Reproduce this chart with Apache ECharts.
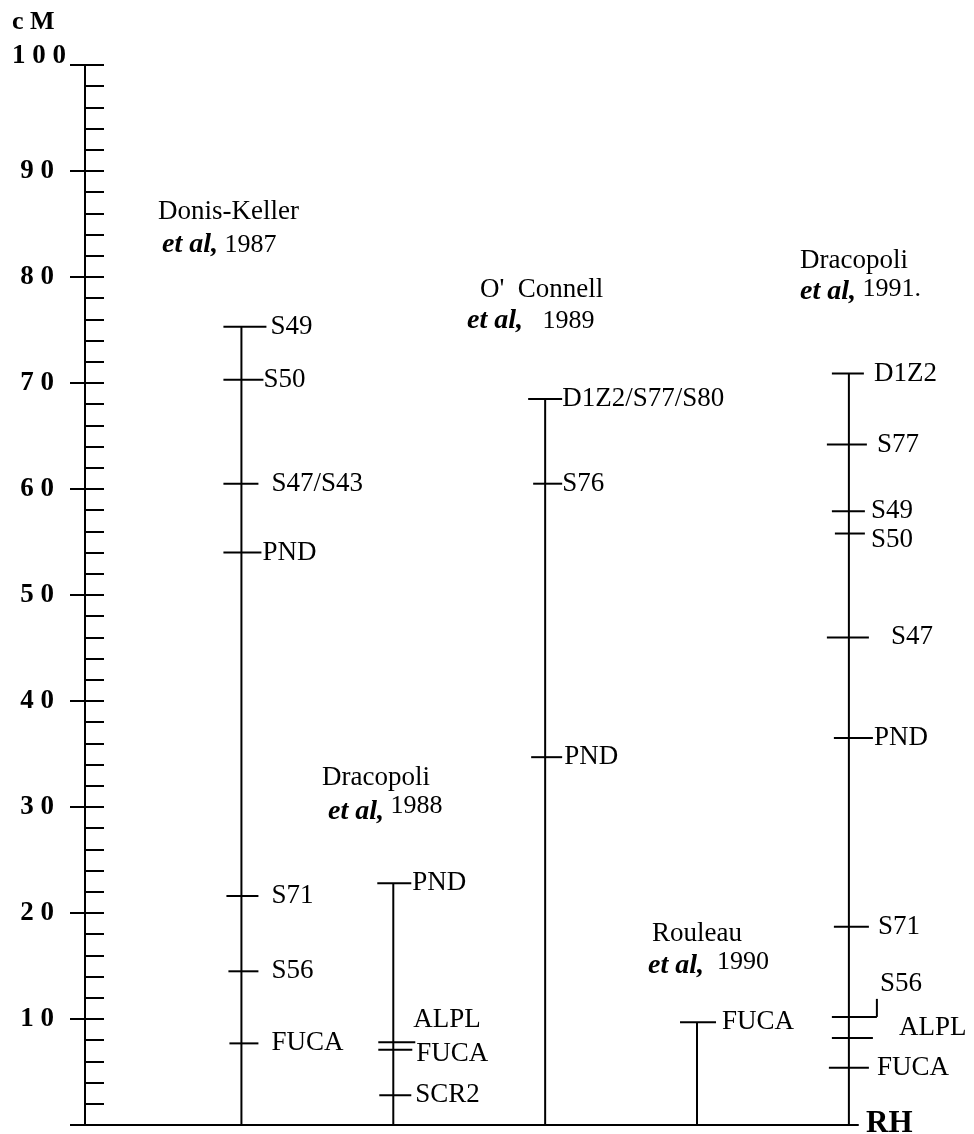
<!DOCTYPE html>
<html>
<head>
<meta charset="utf-8">
<script src="https://cdn.jsdelivr.net/npm/echarts@6/dist/echarts.min.js"></script>
<style>
  html, body { margin: 0; padding: 0; background: #fff; }
  #box1 { width: 974px; height: 1134px; }
</style>
</head>
<body>
<div id="box1"></div>
<script>
// map data (cM) for each study, column order left to right
var studyCols = [1, 2, 3, 4, 5];
var donisNames = ['S49', 'S50', 'S47/S43', 'PND', 'S71', 'S56', 'FUCA'];
var donisCM = [75.3, 70.3, 60.5, 54.0, 21.6, 14.5, 7.7];
var drac88Names = ['PND', 'ALPL', 'FUCA', 'SCR2'];
var drac88CM = [22.8, 7.8, 7.1, 2.8];
var oconNames = ['D1Z2/S77/S80', 'S76', 'PND'];
var oconCM = [68.5, 60.5, 34.7];
var roulNames = ['FUCA'];
var roulCM = [9.7];
var drac91Names = ['D1Z2', 'S77', 'S49', 'S50', 'S47', 'PND', 'S71', 'S56', 'ALPL', 'FUCA'];
var drac91CM = [70.9, 64.2, 57.9, 55.8, 46.0, 36.5, 18.7, 10.2, 8.2, 5.4];
var yTicks = [0, 10, 20, 30, 40, 50, 60, 70, 80, 90, 100];

var studies = [
  { col: studyCols[0], names: donisNames, cm: donisCM },
  { col: studyCols[1], names: drac88Names, cm: drac88CM },
  { col: studyCols[2], names: oconNames, cm: oconCM },
  { col: studyCols[3], names: roulNames, cm: roulCM },
  { col: studyCols[4], names: drac91Names, cm: drac91CM }
];

// tick left, tick right, label dx, label dy, bracket
var layout = {
  '1|S49': [-18, 25, 29, 0], '1|S50': [-18, 22, 22, 0], '1|S47/S43': [-18, 17, 30, 0],
  '1|PND': [-18, 20, 21, 0], '1|S71': [-15, 17, 30, 0], '1|S56': [-13, 17, 30, 0], '1|FUCA': [-12, 17, 30, 0],
  '2|PND': [-16, 18, 19, 0], '2|ALPL': [-15, 22, 20, -22], '2|FUCA': [-15, 19, 23, 4], '2|SCR2': [-14, 18, 22, 0],
  '3|D1Z2/S77/S80': [-17, 17, 17, 0], '3|S76': [-12, 17, 17, 0], '3|PND': [-14, 17, 19, 0],
  '4|FUCA': [-17, 19, 25, 0],
  '5|D1Z2': [-17, 15, 25, 0], '5|S77': [-22, 18, 28, 0], '5|S49': [-17, 16, 22, 0], '5|S50': [-14, 16, 22, 6],
  '5|S47': [-22, 20, 42, 0], '5|PND': [-15, 24, 25, 0], '5|S71': [-15, 20, 29, 0],
  '5|S56': [-17, 28, 31, -33, true], '5|ALPL': [-17, 24, 50, -10], '5|FUCA': [-20, 20, 28, 0]
};

var markerData = [];
var spineData = [];
studies.forEach(function(s) {
  s.names.forEach(function(n, i) {
    markerData.push([s.col, s.cm[i], n]);
  });
  spineData.push([s.col, Math.max.apply(null, s.cm)]);
});

var serif = '"Liberation Serif", "Times New Roman", serif';
var chart = echarts.init(document.getElementById('box1'));

// title blocks: x, y, first line, x2, y2, year, gap, raise year
var titles = [
  [158, 212, 'Donis-Keller', 162, 245, '1987', 1, 0],
  [480, 290, "O'  Connell", 467, 321, '1989', 3, 0],
  [322, 778, 'Dracopoli', 328, 812, '1988', 1, 12],
  [652, 934, 'Rouleau', 648, 966, '1990', 2, 8],
  [800, 261, 'Dracopoli', 800, 292, '1991.', 1, 6]
];
var graphics = [];
titles.forEach(function(t) {
  graphics.push({
    type: 'text', x: t[0], y: t[1],
    style: { text: t[2], font: '27px ' + serif, fill: '#000', verticalAlign: 'middle' }
  });
  var gap = new Array(t[6] + 1).join(' ');
  graphics.push({
    type: 'text', x: t[3], y: t[4],
    style: {
      text: '{i|et al,}' + gap + '{y|' + t[5] + '}',
      font: '26px ' + serif, fill: '#000', verticalAlign: 'middle',
      rich: {
        i: { fontFamily: serif, fontSize: 28, fontStyle: 'italic', fontWeight: 'bold', fill: '#000' },
        y: { fontFamily: serif, fontSize: 26, fill: '#000', padding: [0, 0, t[7], 0] }
      }
    }
  });
});
graphics.push({
  type: 'text', x: 866, y: 1124,
  style: { text: 'RH', font: 'bold 31px ' + serif, fill: '#000', verticalAlign: 'middle' }
});
graphics.push({
  type: 'text', x: 12, y: 22,
  style: { text: 'c M', font: 'bold 26px ' + serif, fill: '#000', verticalAlign: 'middle' }
});

var option = {
  backgroundColor: '#fff',
  animation: false,
  grid: { left: 85, right: 116, top: 65, bottom: 9, outerBoundsMode: 'none', containLabel: false },
  xAxis: {
    type: 'value', min: -0.03, max: 5.06,
    axisLine: { show: true, onZero: false, lineStyle: { color: '#000', width: 2 } },
    axisTick: { show: false }, axisLabel: { show: false }, splitLine: { show: false }
  },
  yAxis: [{
    type: 'value', min: 0, max: 100, interval: 10, position: 'left', offset: 0,
    axisLine: { show: true, onZero: false, lineStyle: { color: '#000', width: 2 } },
    axisTick: { show: true, inside: true, length: 19, lineStyle: { color: '#000', width: 2 } },
    minorTick: { show: true, splitNumber: 5, length: 19, lineStyle: { color: '#000', width: 2 } },
    axisLabel: { show: false }, splitLine: { show: false }
  }, {
    type: 'value', min: 0, max: 100, interval: 10, position: 'left', offset: 0,
    axisLine: { show: false, onZero: false },
    axisTick: { show: true, inside: false, length: 15, lineStyle: { color: '#000', width: 2 } },
    axisLabel: {
      margin: 31, color: '#000', fontFamily: serif, fontWeight: 'bold', fontSize: 27,
      formatter: function(v) {
        if (yTicks.indexOf(v) < 0 || v === 0) return '';
        var s = String(v).split('').join(' ');
        return v === 100 ? '{top|' + s + '}' : s;
      },
      rich: { top: { fontFamily: serif, fontWeight: 'bold', fontSize: 27, color: '#000', padding: [0, -12, 18, 0] } }
    },
    splitLine: { show: false }
  }],
  graphic: graphics,
  series: [{
    type: 'custom',
    data: spineData,
    renderItem: function(params, api) {
      var p0 = api.coord([api.value(0), 0]);
      var p1 = api.coord([api.value(0), api.value(1)]);
      return { type: 'line', shape: { x1: p0[0], y1: p0[1], x2: p1[0], y2: p1[1] },
        style: { stroke: '#000', lineWidth: 2 } };
    }
  }, {
    type: 'custom',
    data: markerData,
    renderItem: function(params, api) {
      var d = markerData[params.dataIndex];
      var p = api.coord([d[0], d[1]]);
      var l = layout[d[0] + '|' + d[2]] || [-17, 19, 26, 0];
      var kids = [{
        type: 'line', shape: { x1: p[0] + l[0], y1: p[1], x2: p[0] + l[1], y2: p[1] },
        style: { stroke: '#000', lineWidth: 2 }
      }, {
        type: 'text', x: p[0] + l[2], y: p[1] + l[3],
        style: { text: d[2], font: '27px ' + serif, fill: '#000', verticalAlign: 'middle' }
      }];
      if (l[4]) {
        kids.push({ type: 'line', shape: { x1: p[0] + l[1], y1: p[1], x2: p[0] + l[1], y2: p[1] - 18 },
          style: { stroke: '#000', lineWidth: 2 } });
      }
      return { type: 'group', children: kids };
    }
  }]
};
chart.setOption(option);
</script>
</body>
</html>
